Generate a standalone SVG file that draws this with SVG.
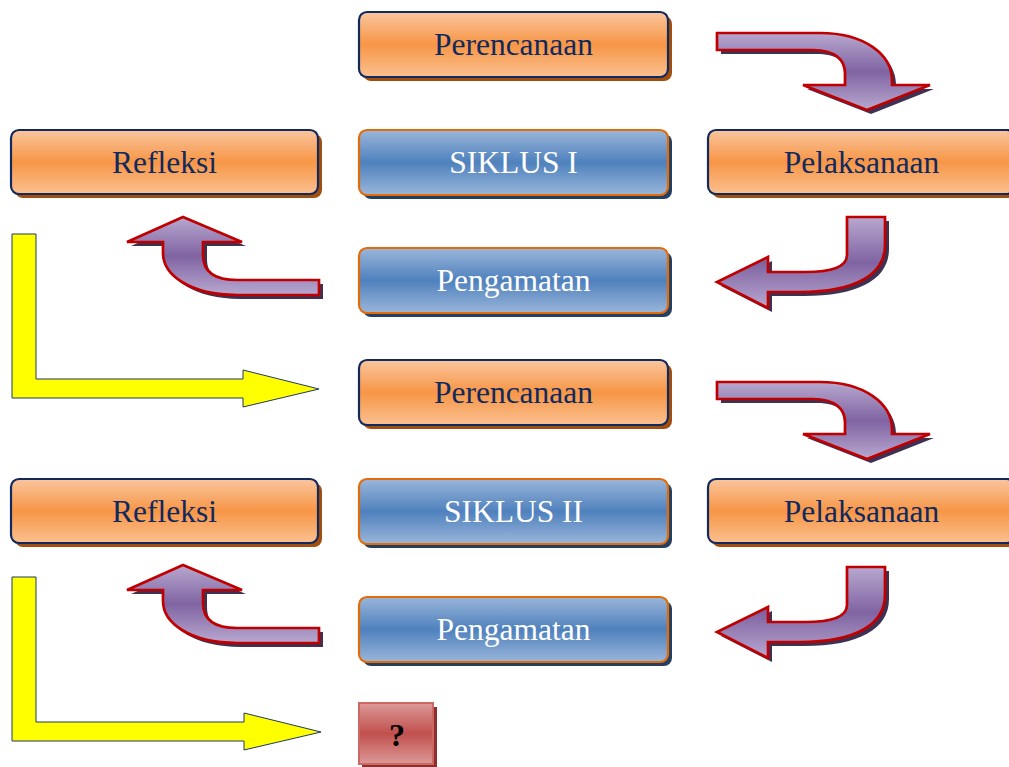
<svg xmlns="http://www.w3.org/2000/svg" width="1009" height="767" viewBox="0 0 1009 767">
<defs>
<linearGradient id="gOrange" x1="0" y1="0" x2="0" y2="1">
<stop offset="0" stop-color="#fac59e"/><stop offset="0.5" stop-color="#f79646"/><stop offset="1" stop-color="#fac090"/>
</linearGradient>
<linearGradient id="gBlue" x1="0" y1="0" x2="0" y2="1">
<stop offset="0" stop-color="#9ab6da"/><stop offset="0.5" stop-color="#4f81bd"/><stop offset="1" stop-color="#9ab6da"/>
</linearGradient>
<linearGradient id="gRed" x1="0" y1="0" x2="0" y2="1">
<stop offset="0" stop-color="#dc9a98"/><stop offset="0.5" stop-color="#c0504d"/><stop offset="1" stop-color="#dc9a98"/>
</linearGradient>
<linearGradient id="gPurple" x1="0" y1="0" x2="0" y2="1">
<stop offset="0" stop-color="#b8a8d0"/><stop offset="0.5" stop-color="#8064a2"/><stop offset="1" stop-color="#b8a8d0"/>
</linearGradient>
<path id="arrA" d="M717,33 L820,33 C865,33 892,55 892,80 L892,85 L930,85 L867,110 L803,85 L845,85 L845,73 C845,60 835,50 813,50 L717,50 Z"/>
<path id="arrB" d="M847,217 L885,217 L885,245 C885,275 855,292 800,292 L768,292 L768,308 L717,282 L768,257 L768,272 L805,272 C835,272 847,265 847,255 Z"/>
<path id="arrC" d="M183,217 L242,242 L203,242 L203,255 C203,272 215,280 237,280 L319,280 L319,295 L237,295 C190,295 163,275 163,253 L163,242 L127,242 Z"/>
</defs>
<style>
.shO{fill:#a04f10}
.shB{fill:#243f60}
.bxO{fill:url(#gOrange);stroke:#10295e;stroke-width:2.2}
.bxB{fill:url(#gBlue);stroke:#e36c09;stroke-width:2.2}
.tO{font-family:"Liberation Serif","Times New Roman",serif;font-size:31.5px;fill:#10295e;text-anchor:middle}
.tB{font-family:"Liberation Serif","Times New Roman",serif;font-size:31.5px;fill:#ffffff;text-anchor:middle}
.aSh{fill:#3f3151}
.aFill{fill:url(#gPurple);stroke:#c00000;stroke-width:2.7;stroke-linejoin:miter}
.yel{fill:#ffff00;stroke:#1f3864;stroke-width:1}
</style>
<rect width="1009" height="767" fill="#ffffff"/>

<g id="connectors">
<use href="#arrA" class="aSh" transform="translate(4,4)"/>
<use href="#arrA" class="aFill"/>
<use href="#arrB" class="aSh" transform="translate(4,4)"/>
<use href="#arrB" class="aFill"/>
<use href="#arrC" class="aSh" transform="translate(4,4)"/>
<use href="#arrC" class="aFill"/>
<path class="yel" d="M12,234 L36,234 L36,379 L243,379 L243,370 L319,389 L243,407 L243,398 L12,398 Z"/>
<use href="#arrA" class="aSh" transform="translate(4,353)"/>
<use href="#arrA" class="aFill" transform="translate(0,349)"/>
<use href="#arrB" class="aSh" transform="translate(4,354)"/>
<use href="#arrB" class="aFill" transform="translate(0,350)"/>
<use href="#arrC" class="aSh" transform="translate(4,352)"/>
<use href="#arrC" class="aFill" transform="translate(0,348)"/>
<path class="yel" d="M12,577 L36,577 L36,722 L244,722 L244,713 L321,732 L244,750 L244,741 L12,741 Z"/>
</g>

<g id="perencanaan1">
<rect class="shO" x="363" y="16" width="309" height="65" rx="8"/>
<rect class="bxO" x="359" y="12" width="309" height="65" rx="8"/>
<text class="tO" x="513.5" y="55">Perencanaan</text>
</g>
<g id="refleksi1">
<rect class="shO" x="15" y="134" width="307" height="64" rx="8"/>
<rect class="bxO" x="11" y="130" width="307" height="64" rx="8"/>
<text class="tO" x="164.5" y="172.5">Refleksi</text>
</g>
<g id="siklus1">
<rect class="shB" x="363" y="134" width="309" height="65" rx="8"/>
<rect class="bxB" x="359" y="130" width="309" height="65" rx="8"/>
<text class="tB" x="513.5" y="173">SIKLUS I</text>
</g>
<g id="pelaksanaan1">
<rect class="shO" x="712" y="134" width="307" height="64" rx="8"/>
<rect class="bxO" x="708" y="130" width="307" height="64" rx="8"/>
<text class="tO" x="861.5" y="172.5">Pelaksanaan</text>
</g>
<g id="pengamatan1">
<rect class="shB" x="363" y="252" width="309" height="65" rx="8"/>
<rect class="bxB" x="359" y="248" width="309" height="65" rx="8"/>
<text class="tB" x="513.5" y="291">Pengamatan</text>
</g>
<g id="perencanaan2">
<rect class="shO" x="363" y="364" width="309" height="65" rx="8"/>
<rect class="bxO" x="359" y="360" width="309" height="65" rx="8"/>
<text class="tO" x="513.5" y="403">Perencanaan</text>
</g>
<g id="refleksi2">
<rect class="shO" x="15" y="483" width="307" height="64" rx="8"/>
<rect class="bxO" x="11" y="479" width="307" height="64" rx="8"/>
<text class="tO" x="164.5" y="521.5">Refleksi</text>
</g>
<g id="siklus2">
<rect class="shB" x="363" y="483" width="309" height="65" rx="8"/>
<rect class="bxB" x="359" y="479" width="309" height="65" rx="8"/>
<text class="tB" x="513.5" y="522">SIKLUS II</text>
</g>
<g id="pelaksanaan2">
<rect class="shO" x="712" y="483" width="307" height="64" rx="8"/>
<rect class="bxO" x="708" y="479" width="307" height="64" rx="8"/>
<text class="tO" x="861.5" y="521.5">Pelaksanaan</text>
</g>
<g id="pengamatan2">
<rect class="shB" x="363" y="601" width="309" height="65" rx="8"/>
<rect class="bxB" x="359" y="597" width="309" height="65" rx="8"/>
<text class="tB" x="513.5" y="640">Pengamatan</text>
</g>
<g id="question">
<rect x="362" y="707" width="75" height="62" fill="#8c2f2d"/>
<rect x="359" y="703" width="74" height="61" fill="url(#gRed)" stroke="#cd6764" stroke-width="2"/>
<text x="397" y="746" font-family="'Liberation Serif','Times New Roman',serif" font-size="32" font-weight="bold" fill="#000000" text-anchor="middle">?</text>
</g>
</svg>
